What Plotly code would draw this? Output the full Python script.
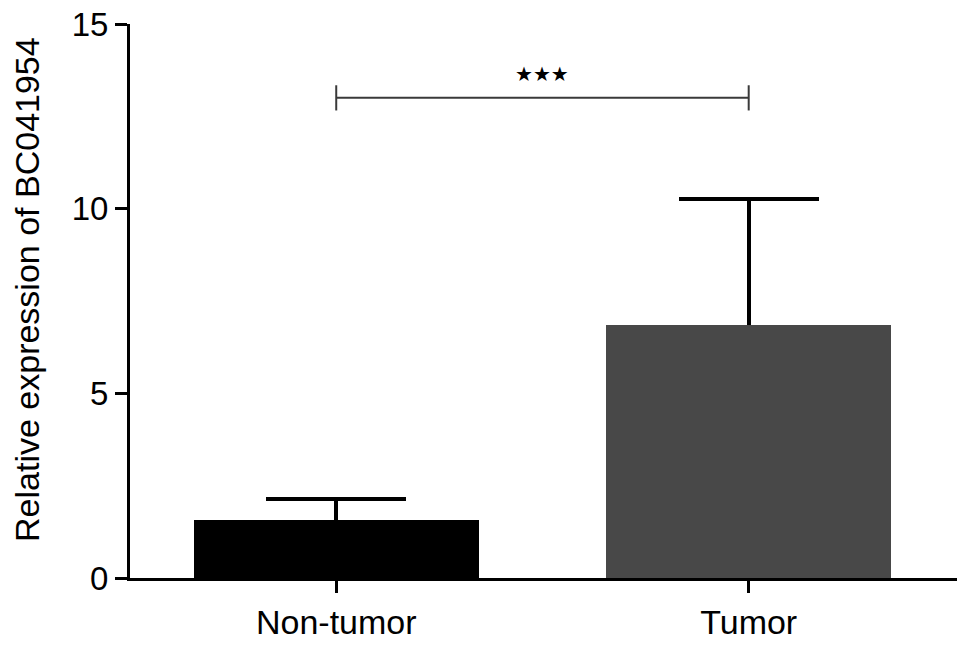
import plotly.graph_objects as go

# data
groups = ["Non-tumor", "Tumor"]
means = [1.58, 6.85]
sd_upper = [0.55, 3.42]
bar_colors = ["#000000", "#484848"]

# significance bracket: compare groups[0] vs groups[1]
sig_pair = ["Non-tumor", "Tumor"]
sig_level = 13.0
sig_label = "★★★"

y_ticks = [0, 5, 10, 15]
y_title = "Relative expression of BC041954"

FONT = "Liberation Sans, Arial, Helvetica, sans-serif"

fig = go.Figure()

# invisible bars carrying the error bars; the lower arm stays hidden
# behind the real bars drawn on top
fig.add_trace(go.Bar(
    x=groups,
    y=means,
    width=0.69,
    marker=dict(color='rgba(0,0,0,0)', line=dict(width=0)),
    error_y=dict(
        type='data',
        symmetric=False,
        array=sd_upper,
        arrayminus=[m / 2 for m in means],
        color='#000000',
        thickness=4,
        width=70,
    ),
    showlegend=False,
    hoverinfo='skip',
))

fig.add_trace(go.Bar(
    x=groups,
    y=means,
    width=0.69,
    marker=dict(color=bar_colors, line=dict(width=0)),
    showlegend=False,
))

# bracket line with short end ticks
fig.add_trace(go.Scatter(
    x=sig_pair,
    y=[sig_level, sig_level],
    mode='lines+markers',
    line=dict(color='#3a3a3a', width=2),
    marker=dict(symbol='line-ns', size=18, line=dict(color='#3a3a3a', width=2)),
    showlegend=False,
    hoverinfo='skip',
))

fig.add_annotation(
    x=0.5, xref='x',
    y=sig_level, yref='y',
    text=sig_label,
    showarrow=False,
    yshift=24,
    font=dict(family="DejaVu Sans", size=20, color='#000000'),
)

fig.add_annotation(
    x=-0.1245, xref='paper',
    y=0.52, yref='paper',
    text=y_title,
    textangle=-90,
    showarrow=False,
    xanchor='center', yanchor='middle',
    font=dict(family=FONT, size=34, color='#000000'),
)

fig.update_xaxes(
    range=[-0.5, 1.505],
    automargin=False,
    showline=True, linecolor='#000000', linewidth=3,
    ticks='outside', ticklen=12, tickwidth=3, tickcolor='#000000',
    tickfont=dict(family=FONT, size=34, color='#000000'),
    showgrid=False, zeroline=False,
)
fig.update_yaxes(
    range=[0, 15],
    tickvals=y_ticks,
    automargin=False,
    ticklabeloverflow='allow',
    showline=True, linecolor='#000000', linewidth=3,
    ticks='outside', ticklen=12, tickwidth=3, tickcolor='#000000',
    tickfont=dict(family=FONT, size=33, color='#000000'),
    showgrid=False, zeroline=False,
)

# page body adds an 8px offset, so the figure is 8px smaller each way
fig.update_layout(
    width=961,
    height=637,
    margin=dict(l=122, r=12, t=16, b=67),
    plot_bgcolor='white',
    paper_bgcolor='white',
    barmode='overlay',
    bargap=0,
    font=dict(family=FONT, color='#000000'),
)

fig.write_html("out.html")
